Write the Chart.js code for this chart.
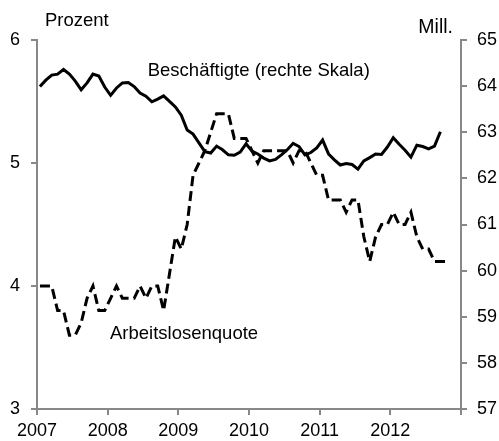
<!DOCTYPE html>
<html>
<head>
<meta charset="utf-8">
<script src="https://cdn.jsdelivr.net/npm/chart.js@4"></script>
<style>
  body { margin: 0; background: #fff; }
  #wrap { width: 499px; height: 441px; }
</style>
</head>
<body>
<div id="wrap"><canvas id="myChart" width="499" height="441"></canvas></div>
<script>
'use strict';

// Jahre an der x-Achse (Monatsdaten ab Jan 2007)
const jahre = ['2007', '2008', '2009', '2010', '2011', '2012'];

// Erwerbstätige in Mill. (rechte Skala), Jan 2007 - Sep 2012
const beschaeftigte = [
  63.99, 64.13, 64.24, 64.26, 64.36, 64.26, 64.11, 63.92, 64.07, 64.26, 64.22, 63.98,
  63.80, 63.96, 64.07, 64.08, 63.99, 63.85, 63.78, 63.66, 63.72, 63.79, 63.67, 63.55,
  63.37, 63.05, 62.96, 62.77, 62.58, 62.55, 62.70, 62.62, 62.51, 62.50, 62.57, 62.75,
  62.59, 62.53, 62.44, 62.38, 62.41, 62.51, 62.62, 62.76, 62.69, 62.51, 62.56, 62.66,
  62.83, 62.53, 62.40, 62.29, 62.32, 62.30, 62.20, 62.38, 62.45, 62.53, 62.52, 62.68,
  62.88, 62.74, 62.61, 62.46, 62.72, 62.69, 62.64, 62.70, 63.01
];

// Arbeitslosenquote in Prozent (linke Skala), Jan 2007 - Okt 2012
const arbeitslosenquote = [
  4.0, 4.0, 4.0, 3.8, 3.8, 3.6, 3.6, 3.7, 3.9, 4.0, 3.8, 3.8,
  3.9, 4.0, 3.9, 3.9, 3.9, 4.0, 3.9, 4.0, 4.0, 3.8, 4.1, 4.4,
  4.3, 4.5, 4.9, 5.0, 5.1, 5.25, 5.4, 5.4, 5.4, 5.2, 5.2, 5.2,
  5.1, 5.0, 5.1, 5.1, 5.1, 5.1, 5.1, 5.0, 5.1, 5.1, 5.0, 4.9,
  4.9, 4.7, 4.7, 4.7, 4.6, 4.7, 4.7, 4.4, 4.2, 4.4, 4.5, 4.5,
  4.6, 4.5, 4.5, 4.6, 4.4, 4.3, 4.3, 4.2, 4.2, 4.2
];

const GRAU = '#888888';
const SCHRIFT = 'Liberation Sans, Arial, sans-serif';

// Monatswerte in der Mitte des Monats platzieren
const toPoints = arr => arr.map((v, i) => ({ x: i + 0.5, y: v }));

// Beschriftungen im Diagramm
const textPlugin = {
  id: 'texte',
  afterDraw(chart) {
    const { ctx, chartArea, scales } = chart;
    ctx.save();
    ctx.fillStyle = '#000';
    ctx.font = '18.5px ' + SCHRIFT;
    ctx.textBaseline = 'middle';

    ctx.textAlign = 'left';
    ctx.fillText('Prozent', chartArea.left + 8, chartArea.top - 19);
    ctx.fillText('Beschäftigte (rechte Skala)', scales.x.getPixelForValue(18.8), scales.y2.getPixelForValue(64.33));
    ctx.fillText('Arbeitslosenquote', scales.x.getPixelForValue(12.4), scales.y.getPixelForValue(3.61));

    ctx.font = '19.5px ' + SCHRIFT;
    ctx.textAlign = 'right';
    ctx.fillText('Mill.', chartArea.right - 8, chartArea.top - 12);
    ctx.restore();
  }
};

const achse = (extra) => Object.assign({
  border: { color: GRAU, width: 2 },
  grid: { drawOnChartArea: false, color: GRAU, lineWidth: 2, tickLength: 6 },
  ticks: { color: '#000', font: { family: SCHRIFT, size: 18 } }
}, extra);

const ctx = document.getElementById('myChart').getContext('2d');
const myChart = new Chart(ctx, {
  type: 'line',
  data: {
    datasets: [{
      label: 'Beschäftigte',
      data: toPoints(beschaeftigte),
      yAxisID: 'y2',
      borderColor: '#000',
      borderWidth: 3,
      pointRadius: 0,
      tension: 0
    }, {
      label: 'Arbeitslosenquote',
      data: toPoints(arbeitslosenquote),
      yAxisID: 'y',
      borderColor: '#000',
      borderWidth: 3,
      borderDash: [10, 5],
      pointRadius: 0,
      tension: 0
    }]
  },
  options: {
    responsive: false,
    animation: false,
    layout: { padding: { top: 40, left: 0, right: 0, bottom: 0 } },
    plugins: { legend: { display: false }, tooltip: { enabled: false } },
    scales: {
      x: achse({
        type: 'linear',
        min: 0,
        max: 72,
        afterFit: s => { s.height = 32; },
        afterBuildTicks: s => { s.ticks = jahre.map((j, i) => ({ value: i * 12 })).concat([{ value: 72 }]); },
        ticks: {
          color: '#000',
          font: { family: SCHRIFT, size: 18 },
          padding: 5,
          maxRotation: 0,
          autoSkip: false,
          callback: v => (v < 72 ? jahre[v / 12] : '')
        }
      }),
      y: achse({
        position: 'left',
        min: 3,
        max: 6,
        afterFit: s => { s.width = 37; },
        ticks: { color: '#000', font: { family: SCHRIFT, size: 18 }, stepSize: 1, padding: 11 }
      }),
      y2: achse({
        position: 'right',
        min: 57,
        max: 65,
        afterFit: s => { s.width = 38; },
        ticks: { color: '#000', font: { family: SCHRIFT, size: 18 }, stepSize: 1, padding: 10 }
      })
    }
  },
  plugins: [textPlugin]
});
</script>
</body>
</html>
